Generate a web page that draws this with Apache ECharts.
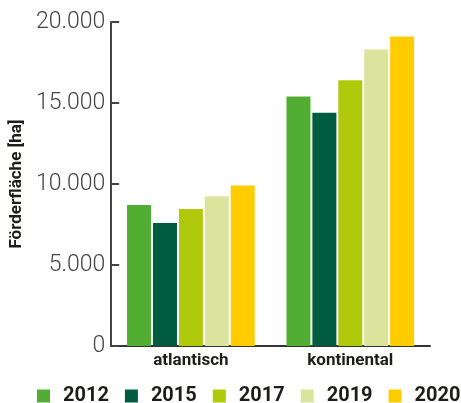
<!DOCTYPE html>
<html><head><meta charset="utf-8">
<script src="https://cdn.jsdelivr.net/npm/echarts@6/dist/echarts.min.js"></script>
<style>html,body{margin:0;padding:0;background:#fff}#c{width:461px;height:403px}</style>
</head><body><div id="c"></div>
<script>
const categories = ['atlantisch', 'kontinental'];
const years = ['2012', '2015', '2017', '2019', '2020'];
const v2012 = [8700, 15400];
const v2015 = [7600, 14400];
const v2017 = [8450, 16400];
const v2019 = [9250, 18300];
const v2020 = [9900, 19100];
const yTicks = [0, 5000, 10000, 15000, 20000];
const colors = ['#52ae32', '#005c41', '#afca0b', '#dbe49c', '#ffcc00'];
const values = [v2012, v2015, v2017, v2019, v2020];

const chart = echarts.init(document.getElementById('c'), null, {renderer: 'canvas'});
chart.setOption({
  animation: false,
  color: colors,
  legend: {
    bottom: -3, left: 37, width: 424, padding: 0,
    itemWidth: 13, itemHeight: 13, itemGap: 16,
    icon: 'rect',
    textStyle: {fontFamily: 'Roboto', fontWeight: 'bold', fontSize: 20, color: '#1d1d1b', padding: [0, 0, 0, 8]},
    data: years
  },
  grid: {left: 109, right: 31, top: 22, bottom: 57, containLabel: false},
  xAxis: {
    type: 'category', data: categories,
    axisLine: {lineStyle: {color: '#333', width: 2}},
    axisTick: {show: false},
    axisLabel: {fontFamily: 'Roboto', fontWeight: 'bold', fontSize: 17, color: '#1d1d1b', margin: 6}
  },
  yAxis: {
    type: 'value', min: 0, max: 20000, interval: 5000,
    name: 'Förderfläche [ha]', nameLocation: 'middle', nameGap: 79,
    nameTextStyle: {fontFamily: 'Roboto', fontWeight: 'bold', fontSize: 17, color: '#1d1d1b'},
    axisLine: {show: true, lineStyle: {color: '#444', width: 2}},
    axisTick: {show: true, inside: true, length: 8, lineStyle: {color: '#444', width: 2}},
    splitLine: {show: false},
    axisLabel: {
      fontFamily: 'Roboto', fontWeight: 300, fontSize: 23, color: '#444', margin: 6,
      formatter: function (v) { return yTicks.indexOf(v) >= 0 ? v.toLocaleString('de-DE') : ''; }
    }
  },
  series: years.map((y, i) => ({
    name: y, type: 'bar', data: values[i],
    barWidth: 24, barGap: '8%', barCategoryGap: '21%'
  }))
});
</script></body></html>
